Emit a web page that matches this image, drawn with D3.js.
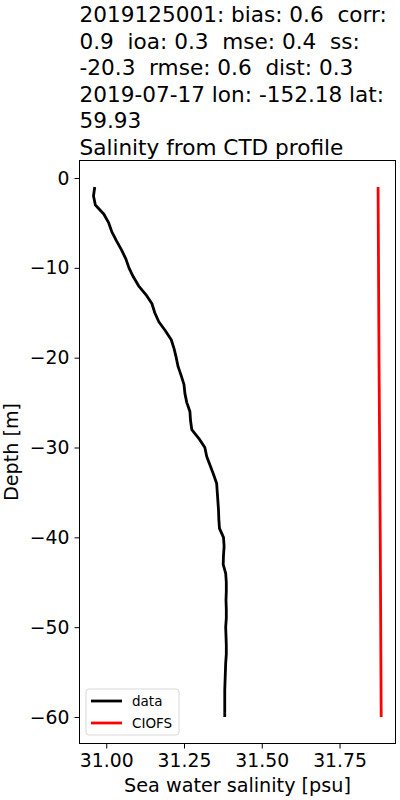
<!DOCTYPE html>
<meta charset="utf-8">
<head>
<style>
body { margin: 0; background: #fff; }
text { font-family: "DejaVu Sans", sans-serif; fill: #000; }
.axis text { font-size: 18.8px; }
.axis path, .axis line { stroke: #000; stroke-width: 1px; }
.title { white-space: pre; }
</style>
</head>
<body>
<script src="https://cdn.jsdelivr.net/npm/d3@7"></script>
<div id="chart"></div>
<script>

var titleLines = [
  "2019125001: bias: 0.6  corr:",
  "0.9  ioa: 0.3  mse: 0.4  ss:",
  "-20.3  rmse: 0.6  dist: 0.3",
  "2019-07-17 lon: -152.18 lat:",
  "59.93",
  "Salinity from CTD profile"
];

// observed profile
var dataDepth = [-1, -2, -3, -4, -5, -6, -7, -8, -9, -10, -11, -12, -13, -14, -15,
  -16, -17, -18, -19, -20, -21, -22, -23, -24, -25, -26, -27, -28, -29, -30,
  -31, -32, -33, -34, -35, -36, -37, -38, -39, -40, -41, -42, -43, -44, -45,
  -46, -47, -48, -49, -50, -51, -52, -53, -54, -55, -56, -57, -58, -59, -60];
var dataSal = [30.963, 30.959, 30.965, 30.992, 31.008, 31.018, 31.033, 31.049, 31.063, 31.073,
  31.087, 31.104, 31.128, 31.147, 31.156, 31.169, 31.190, 31.209, 31.218, 31.225,
  31.231, 31.241, 31.250, 31.253, 31.259, 31.269, 31.271, 31.275, 31.298, 31.317,
  31.323, 31.334, 31.345, 31.355, 31.357, 31.359, 31.361, 31.362, 31.364, 31.377,
  31.379, 31.377, 31.376, 31.384, 31.386, 31.386, 31.385, 31.386, 31.386, 31.384,
  31.385, 31.386, 31.386, 31.384, 31.383, 31.382, 31.381, 31.381, 31.381, 31.381];

// model profile
var modelDepth = [-1, -20, -40, -60];
var modelSal = [31.874, 31.877, 31.881, 31.884];

var xTicks = [31.00, 31.25, 31.50, 31.75];
var yTicks = [0, -10, -20, -30, -40, -50, -60];

var width = 400,
    height = 800;
var margin = {top: 160.5, right: 4.5, bottom: 56.5, left: 79.5};

var svg = d3.select("#chart").append("svg")
    .attr("width", width)
    .attr("height", height);

var x = d3.scaleLinear()
    .domain([30.914, 31.930])
    .range([margin.left, width - margin.right]);

var y = d3.scaleLinear()
    .domain([-62.95, 1.95])
    .range([height - margin.bottom, margin.top]);

// title
svg.append("g").selectAll("text")
    .data(titleLines)
  .enter().append("text")
    .attr("class", "title")
    .attr("x", 79.5)
    .attr("y", function(d, i) { return 22.3 + i * 26.5; })
    .style("font-size", "21.6px")
    .text(function(d) { return d; });

var line = d3.line()
    .x(function(d) { return x(d[0]); })
    .y(function(d) { return y(d[1]); });

svg.append("path")
    .datum(d3.zip(dataSal, dataDepth))
    .attr("fill", "none")
    .attr("stroke", "#000")
    .attr("stroke-width", 2.8)
    .attr("stroke-linejoin", "round")
    .attr("d", line);

svg.append("path")
    .datum(d3.zip(modelSal, modelDepth))
    .attr("fill", "none")
    .attr("stroke", "#ff0000")
    .attr("stroke-width", 2.8)
    .attr("d", line);

// axes
svg.append("g")
    .attr("class", "axis")
    .attr("transform", "translate(0," + (height - margin.bottom) + ")")
    .call(d3.axisBottom(x).tickValues(xTicks).tickFormat(d3.format(".2f")).tickSize(5).tickPadding(5).tickSizeOuter(0))
    .call(function(g) { g.select(".domain").remove(); });

svg.append("g")
    .attr("class", "axis")
    .attr("transform", "translate(" + margin.left + ",0)")
    .call(d3.axisLeft(y).tickValues(yTicks).tickFormat(function(d) { return d < 0 ? "\u2212" + Math.abs(d) : d; }).tickSize(5).tickPadding(5).tickSizeOuter(0))
    .call(function(g) { g.select(".domain").remove(); });

svg.append("rect")
    .attr("x", margin.left)
    .attr("y", margin.top)
    .attr("width", width - margin.left - margin.right)
    .attr("height", height - margin.top - margin.bottom)
    .attr("fill", "none")
    .attr("stroke", "#000")
    .attr("stroke-width", 1);

svg.append("text")
    .attr("x", (margin.left + width - margin.right) / 2)
    .attr("y", 791.5)
    .attr("text-anchor", "middle")
    .style("font-size", "19.2px")
    .text("Sea water salinity [psu]");

svg.append("text")
    .attr("transform", "translate(18," + ((margin.top + height - margin.bottom) / 2) + ") rotate(-90)")
    .attr("text-anchor", "middle")
    .style("font-size", "19.2px")
    .text("Depth [m]");

// legend
var legend = svg.append("g").attr("transform", "translate(86,689)");
legend.append("rect")
    .attr("width", 93)
    .attr("height", 46)
    .attr("rx", 3)
    .attr("fill", "#fff")
    .attr("fill-opacity", 0.8)
    .attr("stroke", "#d9d9d9");
var legendItems = [["data", "#000"], ["CIOFS", "#ff0000"]];
legend.selectAll(".item")
    .data(legendItems)
  .enter().append("g")
    .attr("transform", function(d, i) { return "translate(0," + (12 + i * 22) + ")"; })
    .each(function(d) {
      var g = d3.select(this);
      g.append("line").attr("x1", 5).attr("x2", 36)
        .attr("stroke", d[1]).attr("stroke-width", 2.8);
      g.append("text").attr("x", 46).attr("dy", "0.35em")
        .style("font-size", "13.5px").text(d[0]);
    });
</script>
</body>
